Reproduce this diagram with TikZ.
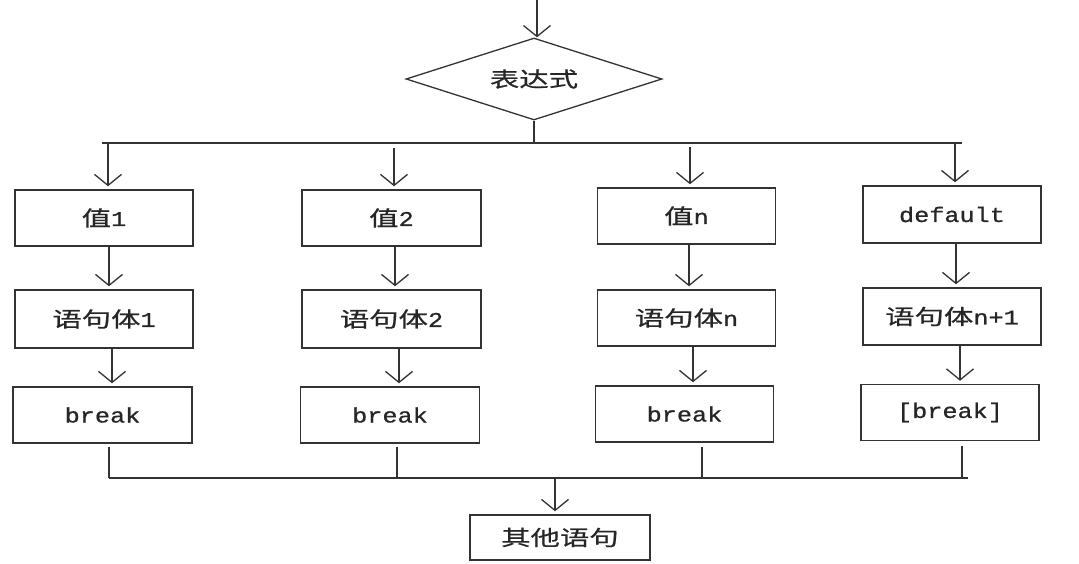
\documentclass[tikz,border=0pt]{standalone}
\usepackage{fontspec}
\usetikzlibrary{arrows.meta,shapes.geometric}
\newfontfamily\cjk[FakeStretch=1.4,FakeBold=0.6]{Noto Sans CJK SC}
\newfontfamily\lat[FakeStretch=1.2,FakeBold=0.8]{Liberation Mono}
\definecolor{ink}{HTML}{333333}
\tikzset{
  box/.style={draw=ink,line width=1.5pt,rectangle,minimum width=178pt,minimum height=56pt,inner sep=0pt,font=\fontsize{21}{24}\selectfont,text=black!85},
  dec/.style={draw=ink,line width=1.3pt,diamond,aspect=3,minimum width=256pt,minimum height=82pt,inner sep=0pt,font=\fontsize{21}{24}\selectfont,text=black!85},
  arr/.style={draw=ink,line width=1.5pt,shorten >=3pt,-{Straight Barb[length=11pt,width=27pt,line width=1.3pt]}},
  ln/.style={draw=ink,line width=1.5pt}
}
\begin{document}
\begin{tikzpicture}[x=1pt,y=-1pt]
\useasboundingbox (0,0) rectangle (1079,563);
\fill[white] (0,0) rectangle (1079,563);
\coordinate (top) at (537,0);
\node[dec] (expr) at (534,79) {\cjk 表达式};
% row 1
\node[box] (v1) at (104,218) {\cjk 值\lat 1};
\node[box,minimum width=179pt] (v2) at (391.5,218) {\cjk 值\lat 2};
\node[box] (v3) at (686.5,216) {\cjk 值\lat n};
\node[box,minimum height=57pt] (v4) at (952,214.5) {\lat default};
% row 2
\node[box,minimum height=58pt] (s1) at (104,319) {\cjk 语句体\lat 1};
\node[box,minimum height=58pt,minimum width=179pt] (s2) at (391.5,319) {\cjk 语句体\lat 2};
\node[box] (s3) at (686.5,318) {\cjk 语句体\lat n};
\node[box,minimum height=57pt] (s4) at (952,316.5) {\cjk 语句体\lat n+1};
% row 3
\node[box,minimum width=179pt] (b1) at (102.5,415) {\lat break};
\node[box,minimum width=179pt] (b2) at (390,415) {\lat break};
\node[box] (b3) at (684.5,414) {\lat break};
\node[box] (b4) at (950,412.5) {\lat [break]};
% other
\node[box,minimum width=180pt,minimum height=45pt] (o) at (560,537.5) {\cjk 其他语句};
% top
\draw[arr,shorten >=0pt] (top) -- (expr.north -| top);
% upper bus
\coordinate (busL) at (102,143);
\coordinate (busR) at (962,143);
\draw[ln] (expr.south) -- (expr.south |- busL);
\draw[ln] (busL) -- (busR);
\draw[arr] (108,143) -- (v1.north -| 108,0);
\draw[arr] (394,148) -- (v2.north -| 394,0);
\draw[arr] (690,147) -- (v3.north -| 690,0);
\draw[arr] (955,143) -- (v4.north -| 955,0);
% row arrows
\draw[arr] (v1.south -| 109,0) -- (s1.north -| 109,0);
\draw[arr] (v2.south -| 395,0) -- (s2.north -| 395,0);
\draw[arr] (v3.south -| 689,0) -- (s3.north -| 689,0);
\draw[arr] (v4.south -| 956,0) -- (s4.north -| 956,0);
\draw[arr] (s1.south -| 112,0) -- (b1.north -| 112,0);
\draw[arr] (s2.south -| 399,0) -- (b2.north -| 399,0);
\draw[arr] (s3.south -| 693,0) -- (b3.north -| 693,0);
\draw[arr] (s4.south -| 960,0) -- (b4.north -| 960,0);
% lower bus
\coordinate (lowL) at (109,478);
\coordinate (lowR) at (968,478);
\draw[ln] (109,447) -- (109,478);
\draw[ln] (397,447) -- (397,478);
\draw[ln] (702,447) -- (702,478);
\draw[ln] (962,446) -- (962,478);
\draw[ln] (lowL) -- (lowR);
\draw[arr] (555,478) -- (o.north -| 555,0);
\end{tikzpicture}
\end{document}
